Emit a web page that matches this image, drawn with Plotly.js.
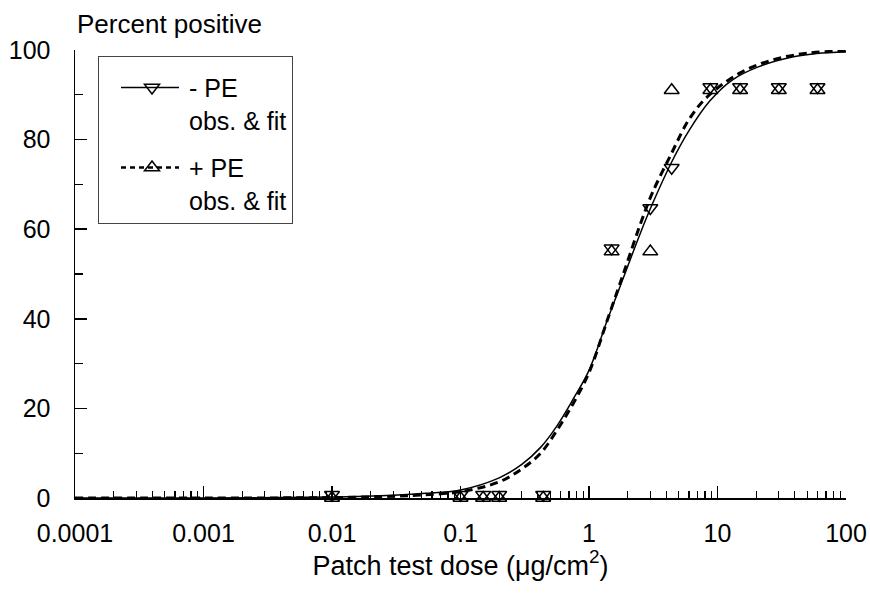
<!DOCTYPE html>
<html>
<head>
<meta charset="utf-8">
<script src="https://cdn.plot.ly/plotly-3.0.1.min.js"></script>
<style>html,body{margin:0;padding:0;background:#fff;}#chart{width:870px;height:599px;}</style>
</head>
<body>
<div id="chart"></div>
<script>
// Observed doses (µg/cm²) and percent positive
var obsDose = [0.01, 0.1, 0.15, 0.2, 0.44, 1.5, 3, 4.4, 8.8, 15, 30, 60];
var obsMinusPE = [0, 0, 0, 0, 0, 55, 64, 73, 91, 91, 91, 91];
var obsPlusPE  = [0, 0, 0, 0, 0, 55, 55, 91, 91, 91, 91, 91];

// Fitted curves
var fitDoseMinus = [0.0001, 0.001, 0.01, 0.03, 0.05, 0.1, 0.2, 0.3, 0.42, 0.56, 0.75, 1, 1.4, 1.9, 2.5, 3.1, 4.4, 6, 8.7, 13, 21, 39, 59, 100];
var fitMinusPE   = [0, 0.02, 0.2, 0.6, 1.0, 1.8, 4.5, 7.5, 11.3, 16, 22, 28.5, 40, 50, 59, 65.5, 75, 82, 88.6, 93.3, 96.3, 98.5, 99.2, 99.6];
var fitDosePlus  = [0.0001, 0.001, 0.01, 0.03, 0.05, 0.1, 0.2, 0.3, 0.42, 0.56, 0.75, 1, 1.4, 1.9, 2.5, 3.1, 4.4, 6, 8.3, 15, 27, 50, 100];
var fitPlusPE    = [0, 0.01, 0.1, 0.4, 0.7, 1.4, 3.6, 6.5, 10, 15, 21, 28, 40, 51, 61, 68, 77, 84.5, 89.5, 94.9, 97.8, 99.3, 99.8];

var xTickVals = [0.0001, 0.001, 0.01, 0.1, 1, 10, 100];
var xTickText = ['0.0001', '0.001', '0.01', '0.1', '1', '10', '100'];
var legendNames = ['- PE<br>obs. &amp; fit', '+ PE<br>obs. &amp; fit'];

var FONT = 'Liberation Sans, Arial, sans-serif';
var MS = 13;                       // marker size
var PX_PER_UNIT = 448 / 100;       // plot height / y span
var SHIFT = (MS / 2 / 2) / PX_PER_UNIT; // lift down-triangles so both triangles share a bounding box

var traces = [
  {x: fitDoseMinus, y: fitMinusPE, mode: 'lines', line: {color: 'black', width: 1.5, shape: 'spline'}, showlegend: false, hoverinfo: 'skip'},
  {x: fitDosePlus, y: fitPlusPE, mode: 'lines', line: {color: 'black', width: 3, dash: '8px,5px', shape: 'spline'}, showlegend: false, hoverinfo: 'skip'},
  {x: obsDose, y: obsMinusPE, yaxis: 'y2', mode: 'markers', cliponaxis: false,
   marker: {symbol: 'triangle-down-open', size: MS, color: 'black', line: {width: 1.5, color: 'black'}}, showlegend: false},
  {x: obsDose, y: obsPlusPE, mode: 'markers', cliponaxis: false,
   marker: {symbol: 'triangle-up-open', size: MS, color: 'black', line: {width: 1.5, color: 'black'}}, showlegend: false},
  {x: [null], y: [null], name: legendNames[0], mode: 'lines+markers', legendgroup: 'a',
   line: {color: 'black', width: 1.5}, marker: {symbol: 'triangle-down-open', size: MS, color: 'black', line: {width: 1.5}}},
  {x: [null], y: [null], name: legendNames[1], mode: 'lines+markers', legendgroup: 'b',
   line: {color: 'black', width: 2.5, dash: '5px,4px'}, marker: {symbol: 'triangle-up-open', size: MS, color: 'black', line: {width: 1.5}}}
];

var layout = {
  width: 870, height: 599,
  margin: {l: 75, r: 24, t: 50, b: 101},
  paper_bgcolor: 'white', plot_bgcolor: 'white',
  font: {family: FONT, size: 25, color: 'black'},
  showlegend: true,
  title: {text: 'Percent positive', x: 77/870, xref: 'container', xanchor: 'left', y: 1 - 24/599, yref: 'container', yanchor: 'middle', font: {family: FONT, size: 26, color: 'black'}},
  xaxis: {
    type: 'log', range: [-4, 2],
    tickmode: 'array', tickvals: xTickVals, ticktext: xTickText,
    ticks: 'inside', ticklen: 12, tickwidth: 1.5, tickcolor: 'black',
    minor: {dtick: 'D1', ticks: 'inside', ticklen: 7, tickwidth: 1.2, tickcolor: 'black', showgrid: false},
    showline: true, linecolor: 'black', linewidth: 1.5,
    showgrid: false, zeroline: false,
    ticklabelstandoff: 12,
    tickfont: {family: FONT, size: 25, color: 'black'},
    title: {text: 'Patch test dose (μg/cm<sup>2</sup>)', font: {family: FONT, size: 27, color: 'black'}, standoff: 4}
  },
  yaxis: {
    range: [0, 100], tickmode: 'linear', tick0: 0, dtick: 20,
    ticks: 'inside', ticklen: 12, tickwidth: 1.5, tickcolor: 'black',
    minor: {dtick: 10, ticks: 'inside', ticklen: 8, tickwidth: 1.2, tickcolor: 'black', showgrid: false},
    showline: true, linecolor: 'black', linewidth: 1.5,
    showgrid: false, zeroline: false,
    ticklabelstandoff: 18,
    tickfont: {family: FONT, size: 25, color: 'black'}
  },
  yaxis2: {overlaying: 'y', range: [-SHIFT, 100 - SHIFT], visible: false, showgrid: false, zeroline: false},
  legend: {
    x: (98 - 75) / 771, y: (498 - 56) / 448, xanchor: 'left', yanchor: 'top',
    bgcolor: 'white', bordercolor: '#444', borderwidth: 1,
    font: {family: FONT, size: 25, color: 'black'},
    title: {text: '\u00a0', font: {size: 6}},
    valign: 'top', traceorder: 'grouped', tracegroupgap: 12, itemwidth: 80
  }
};

Plotly.newPlot('chart', traces, layout, {displayModeBar: false, staticPlot: true}).then(function (gd) {
  // stretch the legend sample line as in the reference and centre the marker on it
  var items = gd.querySelectorAll('.legend .traces');
  items.forEach(function (g) {
    g.querySelectorAll('.legendlines path').forEach(function (p) {
      p.setAttribute('d', 'M22,0h58');
    });
    g.querySelectorAll('.legendpoints path.scatterpts').forEach(function (p) {
      p.setAttribute('transform', 'translate(53,0)');
    });
  });
});
</script>
</body>
</html>
